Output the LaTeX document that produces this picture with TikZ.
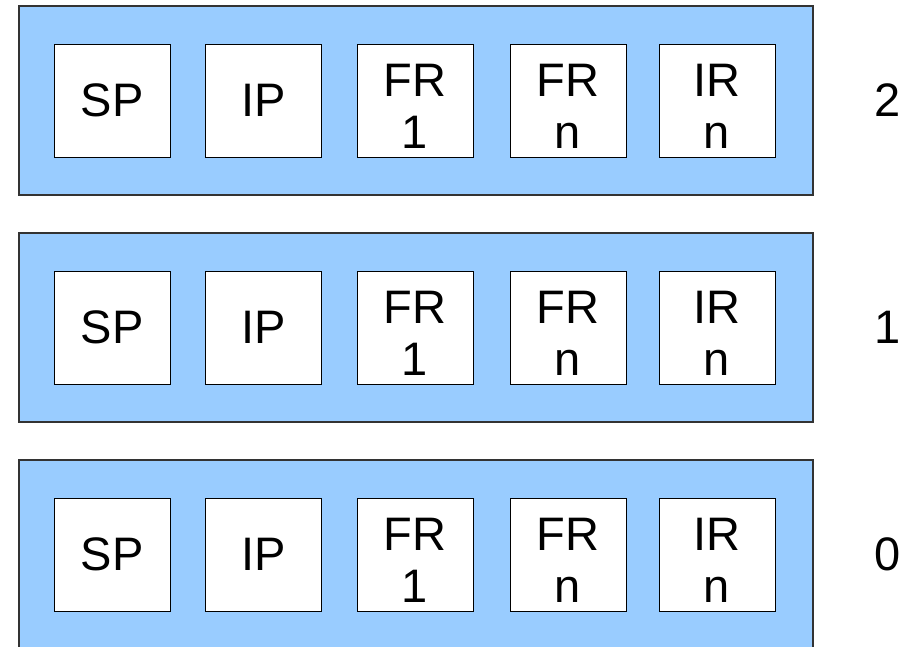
\documentclass[tikz,border=0pt]{standalone}
\usepackage{fontspec}
\setmainfont{Liberation Sans}
\definecolor{bandblue}{HTML}{99CCFF}
\newcommand{\lowln}[1]{\raisebox{-22pt}[0pt][0pt]{#1}}
\begin{document}
\begin{tikzpicture}[x=1pt,y=-1pt,
  band/.style={fill=bandblue,draw=black!80,line width=1.1pt},
  cell/.style={draw=black,fill=white,line width=1pt,minimum width=116pt,minimum height=113pt,inner sep=0pt,align=center,font=\fontsize{47}{52}\selectfont},
  lvl/.style={inner sep=0pt,font=\fontsize{47}{52}\selectfont}]
\useasboundingbox (0,0) rectangle (912,646);
\clip (0,0) rectangle (912,646);
\foreach \t/\c/\l [count=\i] in {6/100.5/2, 233/327.5/1, 460/554.5/0}{
  \draw[band] (19,\t) rectangle (813,\t+189);
  \node[cell] (sp\i) at (112,\c) {SP};
  \node[cell] (ip\i) at (263.5,\c) {IP};
  \node[cell] (fa\i) at (415,\c) {\lowln{FR}\\\lowln{1}};
  \node[cell] (fb\i) at (568,\c) {\lowln{FR}\\\lowln{n}};
  \node[cell] (ir\i) at (717,\c) {\lowln{IR}\\\lowln{n}};
  \node[lvl] (lv\i) at (888,\c) {\l};
}
\end{tikzpicture}
\end{document}
